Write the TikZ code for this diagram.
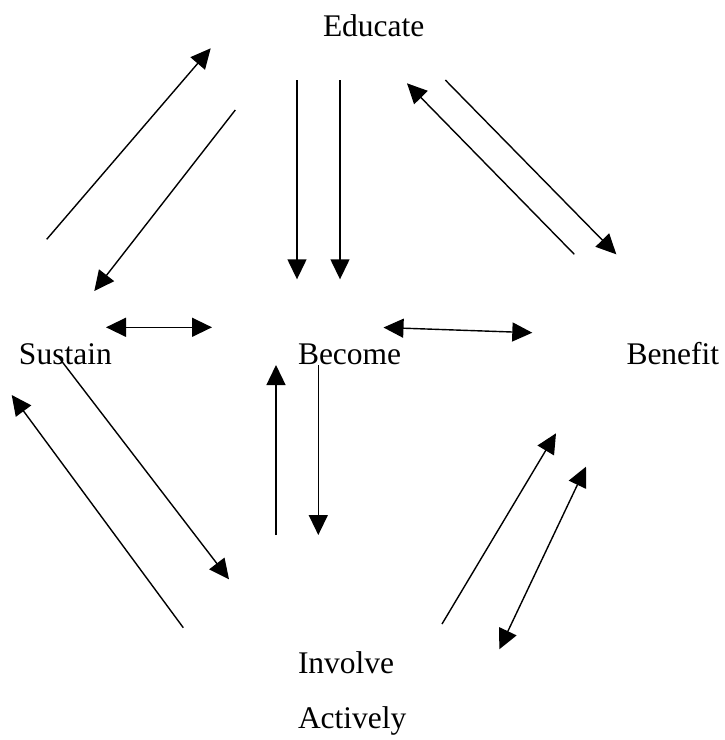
\documentclass[tikz,border=0pt]{standalone}
\usepackage{fontspec}
\setmainfont{Liberation Serif}
\usetikzlibrary{arrows.meta}
\begin{document}
\begin{tikzpicture}[x=1pt,y=-1pt,
  label/.style={anchor=base west,inner sep=0pt,outer sep=0pt,
    font=\fontsize{31.5}{36}\selectfont},
  link/.style={line width=1.4pt,-{Triangle[length=20pt,width=19pt]}},
  twoway/.style={line width=1.4pt,{Triangle[length=20pt,width=19pt]}-{Triangle[length=20pt,width=19pt]}}]
\useasboundingbox (0,0) rectangle (724,740);

% labels
\node[label] (educate) at (323,36.5) {Educate};
\node[label] (sustain) at (19,364.5) {Sustain};
\node[label] (become)  at (298,364) {Become};
\node[label] (benefit) at (626.5,364) {Benefit};
\node[label] (involve) at (298,673.5) {Involve};
\node[label] (actively) at (298,728) {Actively};

% connector end points
\coordinate (a1) at (46.7,239.3);  \coordinate (a2) at (210.7,48.3);
\coordinate (b1) at (235.3,110);   \coordinate (b2) at (94.3,291);
\coordinate (c1) at (297,80);      \coordinate (c2) at (297,279.3);
\coordinate (d1) at (340,80);      \coordinate (d2) at (340,279.3);
\coordinate (e1) at (106,327.3);   \coordinate (e2) at (212,327.3);
\coordinate (f1) at (574.3,254.3); \coordinate (f2) at (407,83.3);
\coordinate (g1) at (445.3,80);    \coordinate (g2) at (616.3,254.3);
\coordinate (h1) at (383.5,327.5); \coordinate (h2) at (532.3,332.7);
\coordinate (i1) at (58.3,356.7);  \coordinate (i2) at (229,579.3);
\coordinate (j1) at (183.3,627.7); \coordinate (j2) at (11.7,395);
\coordinate (k1) at (276,535);     \coordinate (k2) at (276,365);
\coordinate (l1) at (318.3,365);   \coordinate (l2) at (318.3,535);
\coordinate (m1) at (442,624);     \coordinate (m2) at (556,433.3);
\coordinate (n1) at (499.3,649.3); \coordinate (n2) at (586,466.7);

% connectors
\draw[link] (a1) -- (a2);
\draw[link] (b1) -- (b2);
\draw[link] (c1) -- (c2);
\draw[link] (d1) -- (d2);
\draw[twoway] (e1) -- (e2);
\draw[link] (f1) -- (f2);
\draw[link] (g1) -- (g2);
\draw[twoway] (h1) -- (h2);
\draw[link] (i1) -- (i2);
\draw[link] (j1) -- (j2);
\draw[link] (k1) -- (k2);
\draw[link] (l1) -- (l2);
\draw[link] (m1) -- (m2);
\draw[twoway] (n1) -- (n2);
\end{tikzpicture}
\end{document}
